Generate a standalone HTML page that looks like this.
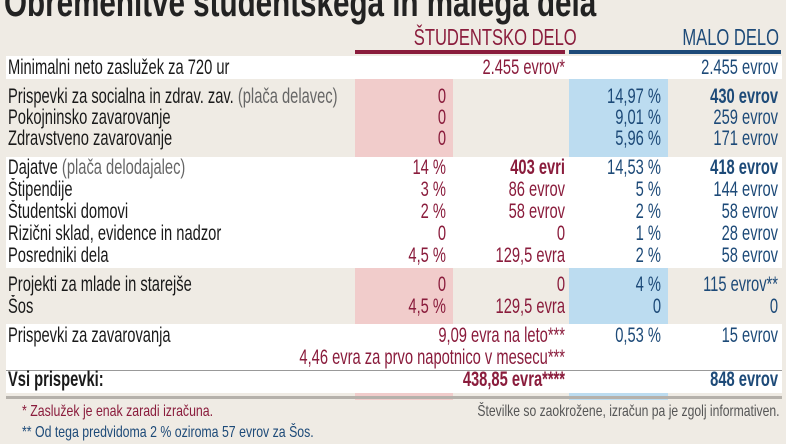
<!DOCTYPE html>
<html><head><meta charset="utf-8"><style>
body{margin:0;width:786px;height:442px;background:#efebe4;overflow:hidden;position:relative;font-family:"Liberation Sans Narrow","Liberation Sans",sans-serif;}
div{position:absolute;}
.t{font-size:21px;line-height:22px;white-space:nowrap;color:#1a1a1a;transform:scaleX(0.7);transform-origin:left center;}
.r{color:#8a1c3c;text-align:right;transform-origin:right center;}
.b{color:#1d4a78;text-align:right;transform-origin:right center;}
.g{color:#555;}
.bd{font-weight:bold;}
</style></head><body>
<div class="t bd" style="left:4px;top:-17px;font-size:40px;line-height:40px;color:#222;transform:scaleX(0.74)">Obremenitve študentskega in malega dela</div>
<div class="t r" style="left:355px;width:210px;top:26px;font-size:23px;transform:scaleX(0.72)">ŠTUDENTSKO DELO</div>
<div style="left:355px;width:210px;top:50px;height:4px;background:#8a1c3c"></div>
<div class="t b" style="left:569px;width:210px;top:26px;font-size:23px;transform:scaleX(0.72)">MALO DELO</div>
<div style="left:569px;width:212px;top:50px;height:4px;background:#1d4a78"></div>

<div style="left:6px;width:776px;top:56px;height:23px;background:#fff"></div>
<div style="left:6px;width:776px;top:157px;height:111px;background:#fff"></div>
<div style="left:6px;width:776px;top:324px;height:69px;background:#fff"></div>
<div style="left:6px;width:776px;top:370px;height:1px;background:#999"></div>
<div style="left:355px;width:98px;top:79px;height:78px;background:#f1cccb"></div>
<div style="left:569px;width:99px;top:79px;height:78px;background:#bcdcf0"></div>
<div style="left:355px;width:98px;top:268px;height:56px;background:#f1cccb"></div>
<div style="left:569px;width:99px;top:268px;height:56px;background:#bcdcf0"></div>
<div style="left:355px;width:98px;top:393px;height:7px;background:#f1cccb"></div>
<div style="left:569px;width:99px;top:393px;height:7px;background:#bcdcf0"></div>
<div style="left:6px;width:776px;top:396px;height:3px;background:#b5b1ab"></div>

<div id="rows"></div>

<div class="t" style="left:22px;top:401px;font-size:16px;color:#8a1c3c;transform:scaleX(0.77)">* Zaslužek je enak zaradi izračuna.</div>
<div class="t" style="left:22px;top:422px;font-size:16px;color:#1d4a78;transform:scaleX(0.77)">** Od tega predvidoma 2 % oziroma 57 evrov za Šos.</div>
<div class="t g" style="right:6px;top:401px;font-size:16px;transform:scaleX(0.76);transform-origin:right center">Številke so zaokrožene, izračun pa je zgolj informativen.</div>

<script>
const labels=["Minimalni neto zaslužek za 720 ur","Prispevki za socialna in zdrav. zav. <span style='color:#666'>(plača delavec)</span>","Pokojninsko zavarovanje","Zdravstveno zavarovanje","Dajatve <span style='color:#666'>(plača delodajalec)</span>","Štipendije","Študentski domovi","Rizični sklad, evidence in nadzor","Posredniki dela","Projekti za mlade in starejše","Šos","Prispevki za zavarovanja","","Vsi prispevki:"];
const rowTops=[57,86,107,128,157,179,201,223,245,274,296,325,347,369];
const sPct=["","0","0","0","14 %","3 %","2 %","0","4,5 %","0","4,5 %","","",""];
const sEur=["2.455 evrov*","","","","403 evri","86 evrov","58 evrov","0","129,5 evra","0","129,5 evra","9,09 evra na leto***","4,46 evra za prvo napotnico v mesecu***","438,85 evra****"];
const mPct=["","14,97 %","9,01 %","5,96 %","14,53 %","5 %","2 %","1 %","2 %","4 %","0","0,53 %","",""];
const mEur=["2.455 evrov","430 evrov","259 evrov","171 evrov","418 evrov","144 evrov","58 evrov","28 evrov","58 evrov","115 evrov**","0","15 evrov","","848 evrov"];
const boldRows=[1,4,13];
const host=document.getElementById('rows');
function cell(cls,left,width,top,html,name,bold){
 const d=document.createElement('div');
 d.className='t '+cls+(bold?' bd':'');
 d.style.left=left+'px';if(width)d.style.width=width+'px';d.style.top=top+'px';
 d.innerHTML=html;
 
 
 host.appendChild(d);
}
labels.forEach((l,i)=>{
 const y=rowTops[i];
 const lb=i===13;
 if(l)cell('',8,null,y,l,'row-label-'+i,lb);
 if(sPct[i])cell('r',355,91,y,sPct[i],'student-pct-'+i,false);
 if(sEur[i])cell('r',0,565,y,sEur[i],'student-eur-'+i,boldRows.includes(i)&&i!==1);
 if(mPct[i])cell('b',569,92,y,mPct[i],'malo-pct-'+i,false);
 if(mEur[i])cell('b',600,178,y,mEur[i],'malo-eur-'+i,boldRows.includes(i));
});
</script>
</body></html>
